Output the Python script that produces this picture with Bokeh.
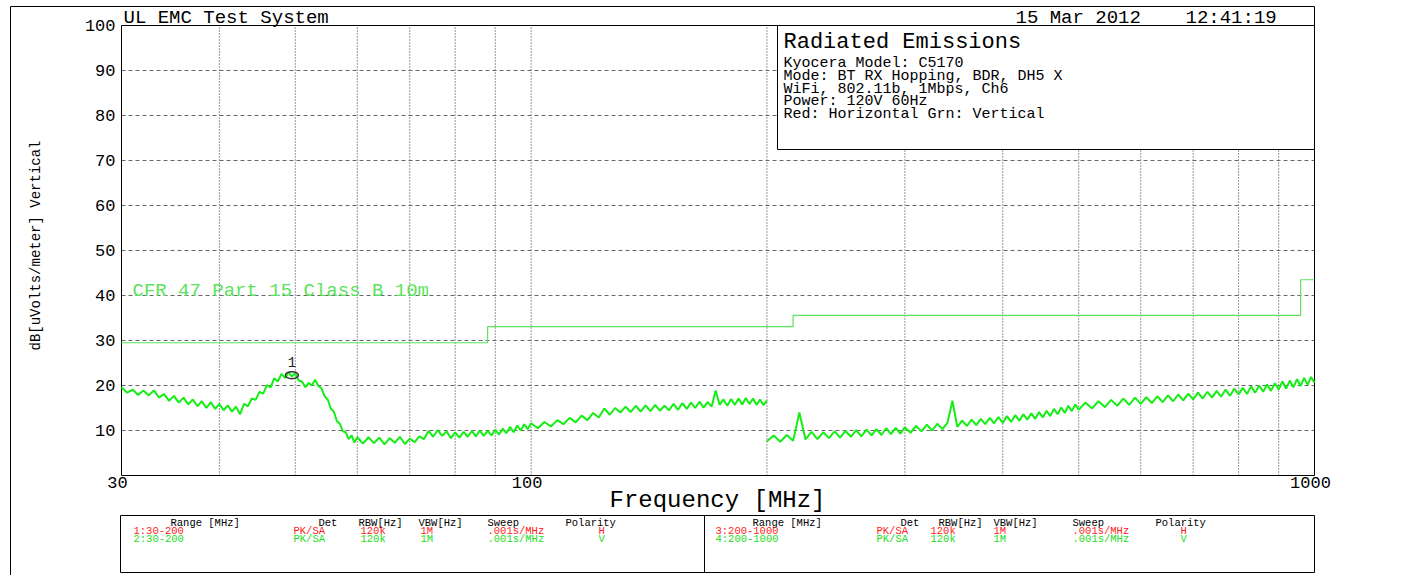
import math
from bokeh.plotting import figure
from bokeh.models import Range1d
from bokeh.embed import file_html
from bokeh.resources import INLINE
from bokeh.core.properties import value

FONT = "Liberation Mono"

# ---------------- data ----------------
seg1_freq = [30.0, 30.5, 31.0, 31.5, 32.0, 32.5, 33.0, 33.5, 34.0, 34.5, 35.0, 35.5, 36.0, 36.5,
             37.0, 37.5, 38.0, 38.5, 39.0, 39.5, 40.0, 40.5, 41.0, 41.5, 42.0, 42.5, 43.0, 43.5,
             44.0, 44.5, 45.0, 45.5, 46.0, 46.5, 47.0, 47.5, 48.0, 48.5, 49.0, 49.5, 50.0, 50.5,
             51.0, 51.5, 52.0, 52.5, 53.0, 53.5, 54.0, 54.5, 55.0, 55.5, 56.0, 56.5, 57.0, 57.5,
             58.0, 58.5, 59.0, 59.5, 60.0,
             61, 62, 63, 64, 65, 66, 67, 68, 69, 70, 71, 72, 73, 74, 75, 76, 77, 78, 79, 80,
             81, 82, 83, 84, 85, 86, 87, 88, 89, 90, 91, 92, 93, 94, 95, 96, 97, 98, 99, 100,
             102, 104, 106, 108, 110, 112, 114, 116, 118, 120, 122, 124, 126, 128, 130, 132,
             134, 136, 138, 140, 142, 144, 146, 148, 150, 152, 154, 156, 158, 160, 162, 164,
             166, 168, 170, 172, 174, 176, 178, 180, 182, 184, 186, 188, 190, 192, 194, 196,
             198, 200]
seg1_level = [19.6, 18.4, 19.1, 17.9, 18.9, 17.8, 18.9, 17.3, 18.1, 16.6, 17.7, 16.2, 17.3, 15.8,
              16.9, 15.4, 16.5, 15.0, 16.3, 14.8, 15.9, 14.5, 15.6, 14.2, 15.3, 13.6, 15.9, 15.4,
              17.1, 16.8, 18.6, 18.2, 20.1, 19.6, 21.6, 20.9, 22.6, 21.7, 22.9, 22.0, 22.8, 21.1,
              20.9, 19.6, 20.6, 20.0, 21.3, 19.9, 19.4, 17.6, 16.9, 14.9, 14.2, 12.1, 11.5, 9.8,
              9.6, 8.1, 8.9, 7.3, 8.5,
              7.1, 8.5, 7.2, 8.4, 6.9, 8.3, 7.3, 8.6, 7.0, 8.2, 7.4, 8.7, 8.1, 9.9, 8.6, 10.1,
              8.8, 9.8, 8.3, 9.6, 8.4, 9.7, 8.6, 9.9, 8.7, 10.0, 8.8, 9.9, 8.9, 10.2, 9.1, 10.4,
              9.4, 10.8, 9.6, 11.1, 10.0, 11.4, 10.3, 11.6,
              10.5, 11.9, 10.9, 12.3, 11.4, 12.8, 11.8, 13.3, 12.3, 13.9, 12.9, 14.9, 13.5, 15.0,
              14.0, 15.3, 14.1, 15.5, 14.2, 15.6, 14.3, 15.7, 14.4, 15.5, 14.5, 15.9, 14.6, 16.1,
              14.8, 16.2, 15.0, 16.4, 15.1, 16.3, 15.3, 18.9, 15.7, 16.9, 15.5, 17.0, 15.7, 17.1,
              15.8, 17.2, 15.9, 17.1, 15.7, 16.9, 15.6, 16.7]

seg2_freq = [200, 204, 208, 212, 216, 220, 224, 228, 232, 236, 240, 244, 248, 252, 256, 260,
             264, 268, 272, 276, 280, 284, 288, 292, 296, 300,
             305, 310, 315, 320, 325, 330, 335, 340, 345, 350, 355, 360, 365, 370, 375, 380,
             385, 390, 395, 400, 405, 410, 415, 420, 425, 430, 435, 440, 445, 450, 455, 460,
             465, 470, 475, 480, 485, 490, 495, 500,
             510, 520, 530, 540, 550, 560, 570, 580, 590, 600, 610, 620, 630, 640, 650, 660,
             670, 680, 690, 700, 710, 720, 730, 740, 750, 760, 770, 780, 790, 800, 810, 820,
             830, 840, 850, 860, 870, 880, 890, 900, 910, 920, 930, 940, 950, 960, 970, 980,
             990, 1000]
seg2_level = [7.6, 8.9, 7.5, 9.0, 7.7, 14.0, 8.0, 9.7, 8.1, 9.6, 8.3, 9.8, 8.4, 9.9, 8.6, 10.1,
              8.7, 10.2, 8.9, 10.3, 9.0, 10.5, 9.2, 10.6, 9.3, 10.7,
              9.5, 11.0, 9.8, 11.3, 10.0, 11.5, 10.3, 11.7, 16.6, 10.8, 12.2, 11.0, 12.4, 11.2,
              12.6, 11.4, 12.8, 11.6, 13.0, 11.7, 13.2, 11.9, 13.4, 12.2, 13.6, 12.4, 13.8, 12.6,
              14.1, 12.9, 14.4, 13.2, 14.8, 13.6, 15.1, 13.9, 15.5, 14.3, 15.8, 14.6,
              16.2, 14.9, 16.5, 15.2, 16.8, 15.5, 17.1, 15.7, 17.3, 15.9, 17.4, 16.1, 17.6, 16.3,
              17.8, 16.5, 18.0, 16.7, 18.2, 16.9, 18.4, 17.1, 18.6, 17.3, 18.8, 17.5, 19.1, 17.7,
              19.3, 18.0, 19.5, 18.1, 19.8, 18.4, 20.0, 18.6, 20.2, 18.8, 20.5, 19.1, 20.9, 19.3,
              21.1, 19.6, 21.4, 19.9, 21.7, 20.2, 21.9, 20.6]

limit_freq = [30, 88, 216, 960, 1000]
limit_level = [29.5, 33.1, 35.6, 43.5, 43.5]
limit_label = "CFR 47 Part 15  Class B 10m"

marker_freq = [49.5]
marker_level = [22.3]
marker_label = ["1"]

y_ticks = [10, 20, 30, 40, 50, 60, 70, 80, 90, 100]
y_tick_labels = ["10", "20", "30", "40", "50", "60", "70", "80", "90", "100"]
x_ticks = [30, 100, 1000]
x_tick_labels = ["30", "100", "1000"]
x_grid = [40, 50, 60, 70, 80, 90, 100, 200, 300, 400, 500, 600, 700, 800, 900]
y_grid = [10, 20, 30, 40, 50, 60, 70, 80, 90]

x_title = "Frequency [MHz]"
y_title = "dB[uVolts/meter] Vertical"
header_left = "UL EMC Test System"
header_date = "15 Mar 2012"
header_time = "12:41:19"

info_title = "Radiated Emissions"
info_lines = ["Kyocera Model: C5170",
              "Mode: BT RX Hopping, BDR, DH5 X",
              "WiFi, 802.11b, 1Mbps, Ch6",
              "Power: 120V 60Hz",
              "Red: Horizontal  Grn: Vertical"]

table_header = ["Range [MHz]", "Det", "RBW[Hz]", "VBW[Hz]", "Sweep", "Polarity"]
table_rows_left = [["1:30-200", "PK/SA", "120k", "1M", ".001s/MHz", "H"],
                   ["2:30-200", "PK/SA", "120k", "1M", ".001s/MHz", "V"]]
table_rows_right = [["3:200-1000", "PK/SA", "120k", "1M", ".001s/MHz", "H"],
                    ["4:200-1000", "PK/SA", "120k", "1M", ".001s/MHz", "V"]]

# ---------------- layout helpers (canvas pixel -> data) ----------------
W, H = 1400, 575
FL, FR, FT, FB = 121, 1314, 25, 475
LOGSPAN = math.log10(1000 / 30)


def fx(px):
    return 30 * 10 ** ((px - FL) / (FR - FL) * LOGSPAN)


def fy(py):
    return (FB - py) / ((FB - FT) / 100.0)


p = figure(width=W, height=H, x_axis_type="log",
           x_range=Range1d(fx(0), fx(W)), y_range=Range1d(fy(H), fy(0)),
           x_axis_location=None, y_axis_location=None,
           output_backend="svg", toolbar_location=None,
           min_border=0, min_border_left=0, min_border_right=0,
           min_border_top=0, min_border_bottom=0)
p.background_fill_color = "white"
p.border_fill_color = "white"
p.outline_line_color = None
p.grid.visible = False

GREEN = "#14ee14"
LIMIT_GREEN = "#5ce25c"
RED = "#ff1a1a"

# outer frame (left + top)
p.line([fx(10), fx(10), 1000, 1000], [fy(H), fy(6), fy(6), 100],
       line_color="black", line_width=1)

# grid
p.segment(x0=x_grid, y0=[0] * len(x_grid), x1=x_grid, y1=[100] * len(x_grid),
          line_color="#333333", line_width=1, line_dash="1 2")
p.segment(x0=[30] * len(y_grid), y0=y_grid, x1=[1000] * len(y_grid), y1=y_grid,
          line_color="#666666", line_width=1, line_dash="4 3")

# plot frame
p.quad(left=[30], right=[1000], bottom=[0], top=[100], fill_color=None,
       line_color="black", line_width=1)

# limit line
p.step(limit_freq, limit_level, mode="after", line_color=LIMIT_GREEN, line_width=1.2)
p.text(x=[fx(132)], y=[fy(290)], text=[limit_label], text_font=value(FONT),
       text_font_size="19px", text_color=LIMIT_GREEN, text_baseline="middle")

# traces
p.line(seg1_freq, seg1_level, line_color=GREEN, line_width=2)
p.line(seg2_freq, seg2_level, line_color=GREEN, line_width=2)

# marker
p.ellipse(marker_freq, marker_level, width=13, height=7, width_units="screen",
          height_units="screen", fill_color=None, line_color="#333333", line_width=1.5)
p.text(x=marker_freq, y=[v + 2.9 for v in marker_level], text=marker_label,
       text_font=value(FONT), text_font_size="14px", text_color="#222222",
       text_align="center", text_baseline="middle")

# tick labels
p.text(x=[fx(115)] * len(y_ticks), y=y_ticks, text=y_tick_labels, text_font=value(FONT),
       text_font_size="17px", text_color="black", text_align="right",
       text_baseline="middle")
p.text(x=x_ticks, y=[fy(482)] * len(x_ticks), text=x_tick_labels, text_font=value(FONT),
       text_font_size="17px", text_color="black", text_align="center",
       text_baseline="middle", x_offset=-4)

# axis titles
p.text(x=[fx(717)], y=[fy(500)], text=[x_title], text_font=value(FONT),
       text_font_size="24px", text_color="black", text_align="center",
       text_baseline="middle")
p.text(x=[fx(35)], y=[fy(245)], text=[y_title], text_font=value(FONT),
       text_font_size="14px", text_color="black", text_align="center",
       text_baseline="middle", angle=math.pi / 2)

# header texts
p.text(x=[fx(123), fx(1015), fx(1185)], y=[fy(17)] * 3,
       text=[header_left, header_date, header_time], text_font=value(FONT),
       text_font_size="19px", text_color="black", text_baseline="middle")

# info box
p.quad(left=[fx(777)], right=[1000], bottom=[fy(149)], top=[100],
       fill_color="white", line_color="black", line_width=1)
p.text(x=[fx(783)], y=[fy(42)], text=[info_title], text_font=value(FONT),
       text_font_size="22px", text_color="black", text_baseline="middle")
p.text(x=[fx(783)] * len(info_lines), y=[fy(63 + 12.8 * i) for i in range(len(info_lines))],
       text=info_lines, text_font=value(FONT), text_font_size="15px",
       text_color="black", text_baseline="middle")

# ---------------- table ----------------
p.quad(left=[fx(120)], right=[1000], bottom=[fy(572)], top=[fy(515)],
       fill_color="white", line_color="black", line_width=1)
p.segment(x0=[fx(704)], y0=[fy(572)], x1=[fx(704)], y1=[fy(515)],
          line_color="black", line_width=1)

hdr_x_left = [170, 318, 358, 418, 487, 565]
row_x_left = [133, 293, 360, 420, 487, 598]
hdr_x_right = [752, 900, 938, 993, 1072, 1155]
row_x_right = [715, 876, 930, 993, 1072, 1180]
row_y = [522, 530, 538]
row_colors = [RED, "#22dd22"]

for hx in (hdr_x_left, hdr_x_right):
    p.text(x=[fx(v) for v in hx], y=[fy(row_y[0])] * len(hx), text=table_header,
           text_font=value(FONT), text_font_size="10.5px", text_color="black",
           text_baseline="middle")
for rows, rx in ((table_rows_left, row_x_left), (table_rows_right, row_x_right)):
    for k, row in enumerate(rows):
        p.text(x=[fx(v) for v in rx], y=[fy(row_y[k + 1])] * len(rx), text=row,
               text_font=value(FONT), text_font_size="10.5px", text_color=row_colors[k],
               text_baseline="middle")

open("out.html", "w").write(file_html(p, INLINE))
